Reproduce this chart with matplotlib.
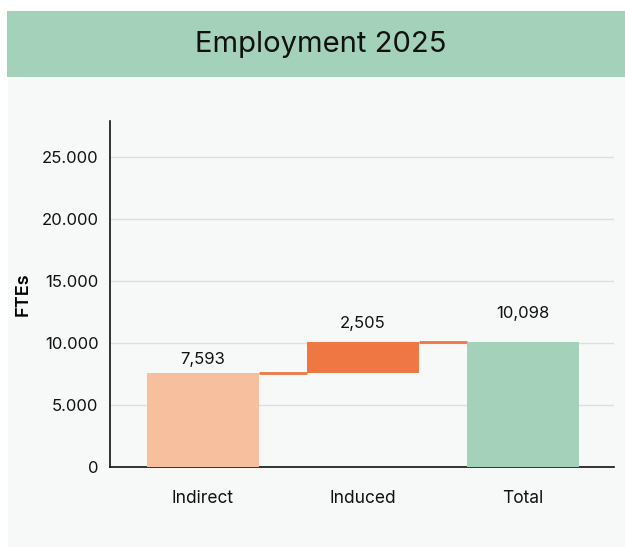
"""
Employment 2025 waterfall chart
"""
import matplotlib
matplotlib.use("Agg")
import matplotlib.pyplot as plt
from matplotlib.patches import Rectangle
from matplotlib.ticker import FuncFormatter

plt.rcParams['font.family'] = ['Inter', 'DejaVu Sans']

# data
categories = ['Indirect', 'Induced', 'Total']
steps = [7593, 2505]
total = 10098
yticks = [0, 5000, 10000, 15000, 20000, 25000]

# colours
step_colors = ['#f8bf9f', '#ee7744']
total_color = '#a3d1b9'
band_color = '#a3d1b9'
panel_color = '#f6f9f8'

fig = plt.figure(figsize=(6.25, 5.47), dpi=100)
fig.patch.set_facecolor('white')

# panel + title band
fig.patches.append(Rectangle((8 / 625, 0), 1, 536 / 547, transform=fig.transFigure,
                             facecolor=panel_color, edgecolor='none', zorder=-2))
fig.patches.append(Rectangle((7 / 625, 470 / 547), 1, 66 / 547, transform=fig.transFigure,
                             facecolor=band_color, edgecolor='none', zorder=-1))
fig.text(0.513, 503 / 547, 'Employment 2025', ha='center', va='center', fontsize=21,
         color='#111111')

ax = fig.add_axes([109.5 / 625, 80.3 / 547, 504.5 / 625, 345.7 / 547])
ax.set_facecolor('none')
ax.set_zorder(2)

# waterfall: running bottoms from the cumulative sum
bottoms = []
run = 0
for v in steps:
    bottoms.append(run)
    run += v

width = 0.7
xs = list(range(len(categories)))
for i, (v, b) in enumerate(zip(steps, bottoms)):
    ax.bar(xs[i], v, bottom=b, width=width, color=step_colors[i], zorder=3)
ax.bar(xs[-1], total, width=width, color=total_color, zorder=3)

# connectors
levels = [b + v for v, b in zip(steps, bottoms)]
for i, lvl in enumerate(levels):
    ax.plot([xs[i] + width / 2, xs[i + 1] - width / 2], [lvl, lvl],
            color='#ee7744', lw=2, zorder=2, solid_capstyle='butt')

# value labels
offsets = [9.5, 13, 20]
tops = levels + [total]
values = steps + [total]
for x, top, v, off in zip(xs, tops, values, offsets):
    ax.annotate('{:,}'.format(v), (x, top), xytext=(0, off), textcoords='offset points',
                ha='center', va='center', fontsize=12, color='#111111')

ax.set_xlim(-0.584, 2.569)
ax.set_ylim(0, 27900)
ax.set_yticks(yticks)
ax.yaxis.set_major_formatter(FuncFormatter(lambda v, p: '{:,.0f}'.format(v).replace(',', '.')))
ax.set_xticks(xs)
ax.set_xticklabels(categories, fontsize=12.5)
ax.tick_params(axis='both', length=0, colors='#111111')
ax.tick_params(axis='y', labelsize=12, pad=8)
ax.tick_params(axis='x', pad=17)

for y in yticks[1:]:
    ax.axhline(y, color='#dedede', lw=1, zorder=1)

for s in ['top', 'right']:
    ax.spines[s].set_visible(False)
ax.spines['left'].set_color('#111111')
ax.spines['bottom'].set_color('#111111')
ax.spines['left'].set_linewidth(1.2)
ax.spines['bottom'].set_linewidth(1.2)

ax.set_ylabel('FTEs', fontsize=13, fontweight='semibold', labelpad=7)

fig.savefig('out.png', dpi=100)
